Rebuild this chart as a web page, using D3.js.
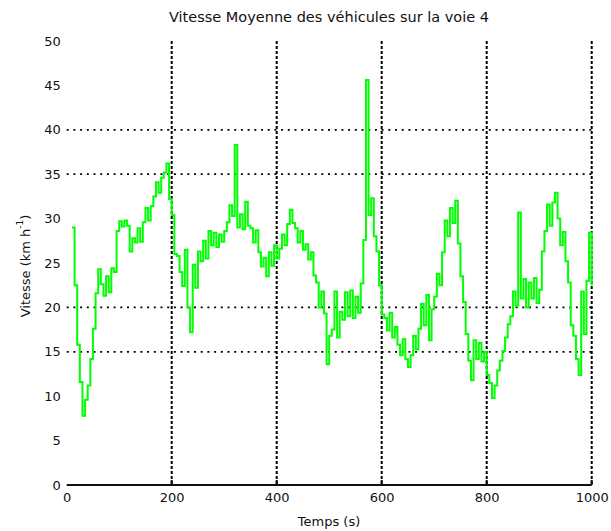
<!DOCTYPE html>
<html>
<head>
<meta charset="utf-8">
<script src="https://cdn.jsdelivr.net/npm/d3@7"></script>
<style>
  html, body { margin: 0; padding: 0; background: #fff; }
  svg { display: block; }
  text { font-family: "DejaVu Sans", Arial, sans-serif; fill: #111; }
</style>
</head>
<body>
<svg id="chart" width="611" height="531"></svg>
<script>
// Mean speed of vehicles on lane 4, sampled every 5 s
const sampleStart = 10;   // s
const samplePeriod = 5;   // s
const speeds = [
  29.0, 22.5, 15.8, 11.6, 7.8, 9.6, 11.2, 14.2, 17.6, 21.6,
  24.3, 22.6, 21.3, 23.5, 21.7, 24.4, 24.0, 28.6, 29.7, 29.1,
  29.8, 29.2, 26.3, 27.8, 27.3, 28.9, 27.4, 29.6, 31.2, 29.8,
  31.4, 32.5, 34.1, 32.9, 34.6, 35.2, 36.2, 32.2, 30.4, 26.0,
  25.8, 24.0, 22.4, 26.5, 20.0, 17.2, 24.8, 22.2, 26.3, 25.2,
  27.5, 25.5, 28.6, 27.0, 28.4, 26.8, 28.2, 27.4, 28.6, 29.6,
  31.5, 30.3, 38.3, 29.0, 30.5, 28.8, 31.9, 29.2, 28.9, 27.3,
  28.7, 26.2, 24.6, 25.6, 23.5, 26.2, 24.7, 27.0, 25.5, 26.6,
  28.2, 27.0, 29.4, 31.0, 29.5, 28.9, 27.3, 28.6, 26.5, 27.1,
  25.4, 26.2, 23.6, 22.8, 20.0, 21.8, 19.3, 13.6, 16.8, 17.5,
  21.8, 16.6, 19.5, 18.6, 21.7, 19.0, 21.9, 18.8, 21.2, 19.4,
  22.7, 27.6, 45.6, 30.4, 32.3, 28.0, 26.3, 22.5, 19.2, 18.8,
  17.4, 19.4, 16.6, 17.8, 15.8, 14.6, 16.4, 14.2, 13.3, 14.6,
  16.8, 15.3, 17.6, 20.4, 18.0, 21.4, 16.3, 19.8, 21.2, 23.8,
  22.5, 26.2, 29.8, 28.0, 31.2, 29.5, 32.0, 27.2, 23.5, 20.6,
  17.0, 14.0, 11.8, 16.3, 14.2, 16.0, 13.9, 15.0, 12.4, 11.5,
  9.8, 11.2, 12.9, 14.0, 15.1, 16.6, 18.1, 19.0, 21.8, 20.2,
  30.7, 21.0, 23.2, 20.0, 22.8, 21.0, 23.3, 20.5, 22.0, 26.3,
  28.6, 31.6, 29.2, 31.8, 32.9, 30.0, 27.0, 28.5, 25.2, 22.8,
  18.0, 16.8, 14.2, 12.4, 21.8, 17.0, 23.0, 28.4, 22.5
];

const xTicks = [0, 200, 400, 600, 800, 1000];
const yTicks = [0, 5, 10, 15, 20, 25, 30, 35, 40, 45, 50];
const xGrid = [200, 400, 600, 800, 1000];
const yGrid = [15, 20, 35, 40];

const titleText = "Vitesse Moyenne des véhicules sur la voie 4";
const xLabelText = "Temps (s)";

const svg = d3.select("#chart");

const x = d3.scaleLinear().domain([0, 1000]).range([66.7, 591.7]);
const y = d3.scaleLinear().domain([0, 50]).range([485, 41]);

// grid
svg.append("g").selectAll("line").data(yGrid).join("line")
  .attr("x1", x(0)).attr("x2", x(1000))
  .attr("y1", d => y(d)).attr("y2", d => y(d))
  .attr("stroke", "#000").attr("stroke-width", 1.8)
  .attr("stroke-dasharray", "2,4.7");

svg.append("g").selectAll("line").data(xGrid).join("line")
  .attr("x1", d => x(d)).attr("x2", d => x(d))
  .attr("y1", y(50)).attr("y2", y(0))
  .attr("stroke", "#000").attr("stroke-width", 2)
  .attr("stroke-dasharray", "3,2");

// series, held between samples
const line = d3.line()
  .curve(d3.curveStepAfter)
  .x((d, i) => x(sampleStart + i * samplePeriod))
  .y(d => y(d));

svg.append("path")
  .datum(speeds)
  .attr("fill", "none")
  .attr("stroke", "#00ff00")
  .attr("stroke-width", 2)
  .attr("d", line);

// bottom axis line with inward ticks
svg.append("line")
  .attr("x1", x(0)).attr("x2", x(1000))
  .attr("y1", y(0)).attr("y2", y(0))
  .attr("stroke", "#111").attr("stroke-width", 2);

svg.append("g").selectAll("line").data(xGrid).join("line")
  .attr("x1", d => x(d)).attr("x2", d => x(d))
  .attr("y1", y(0)).attr("y2", y(0) - 5)
  .attr("stroke", "#111").attr("stroke-width", 2);

// tick labels
const xAxis = d3.axisBottom(x).tickValues(xTicks).tickSize(0).tickPadding(8)
  .tickFormat(d3.format("d"));
svg.append("g").attr("transform", `translate(0,${y(0)})`).call(xAxis)
  .call(g => g.select(".domain").remove())
  .call(g => g.selectAll("text").attr("font-size", 13)
    .attr("font-family", "DejaVu Sans, Arial, sans-serif").attr("fill", "#111"));

const yAxis = d3.axisLeft(y).tickValues(yTicks).tickSize(0).tickPadding(6)
  .tickFormat(d3.format("d"));
svg.append("g").attr("transform", `translate(${x(0)},0)`).call(yAxis)
  .call(g => g.select(".domain").remove())
  .call(g => g.selectAll("text").attr("font-size", 13)
    .attr("font-family", "DejaVu Sans, Arial, sans-serif").attr("fill", "#111"));

// title and axis labels
svg.append("text")
  .attr("x", 329).attr("y", 17)
  .attr("text-anchor", "middle").attr("dominant-baseline", "central")
  .attr("font-size", 14.5)
  .text(titleText);

svg.append("text")
  .attr("x", 329).attr("y", 521)
  .attr("text-anchor", "middle").attr("dominant-baseline", "central")
  .attr("font-size", 13)
  .text(xLabelText);

const yl = svg.append("text")
  .attr("transform", "translate(25,266) rotate(-90)")
  .attr("text-anchor", "middle").attr("dominant-baseline", "central")
  .attr("font-size", 13);
yl.append("tspan").text("Vitesse (km h");
yl.append("tspan").attr("dy", -5).attr("font-size", 9).text("-1");
yl.append("tspan").attr("dy", 5).text(")");
</script>
</body>
</html>
